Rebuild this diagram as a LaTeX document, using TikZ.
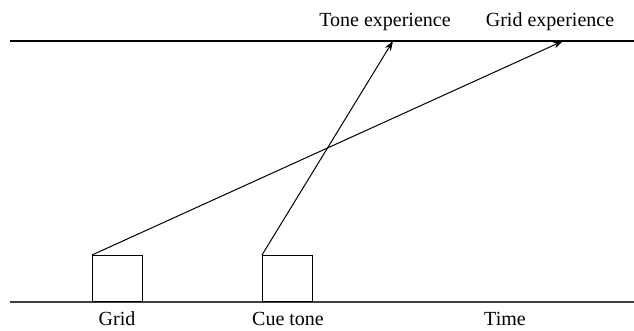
\documentclass[tikz,border=0pt]{standalone}
\usepackage{fontspec}
\setmainfont{Liberation Serif}
\usetikzlibrary{arrows.meta}
\tikzset{
  event/.style={draw,line width=0.5pt,minimum width=25pt,minimum height=23pt,inner sep=0pt},
  lab/.style={anchor=base,inner sep=0pt,font=\fontsize{10}{12}\selectfont},
  link/.style={line width=0.5pt,-{Stealth[length=5pt,width=3.5pt]}}
}
\begin{document}
\begin{tikzpicture}[x=0.5pt,y=-0.5pt]
\useasboundingbox (0,0) rectangle (634,331);
\draw[line width=0.6pt] (10,41) -- (634,41);
\draw[line width=0.6pt,black!75] (10,302) -- (634,302);
\node[event,anchor=south west] (gridbox) at (92,302) {};
\node[event,anchor=south west] (cuebox) at (262,302) {};
\coordinate (toneexp) at (393,41);
\coordinate (gridexp) at (563,41);
\draw[link] (gridbox.north west) -- (gridexp);
\draw[link] (cuebox.north west) -- (toneexp);
\node[lab] (tonelab) at (385,27) {Tone experience};
\node[lab] (gridlab) at (550,27) {Grid experience};
\node[lab] (gridname) at (117,326) {Grid};
\node[lab] (cuename) at (288,326) {Cue tone};
\node[lab] (timename) at (505,326) {Time};
\end{tikzpicture}
\end{document}
